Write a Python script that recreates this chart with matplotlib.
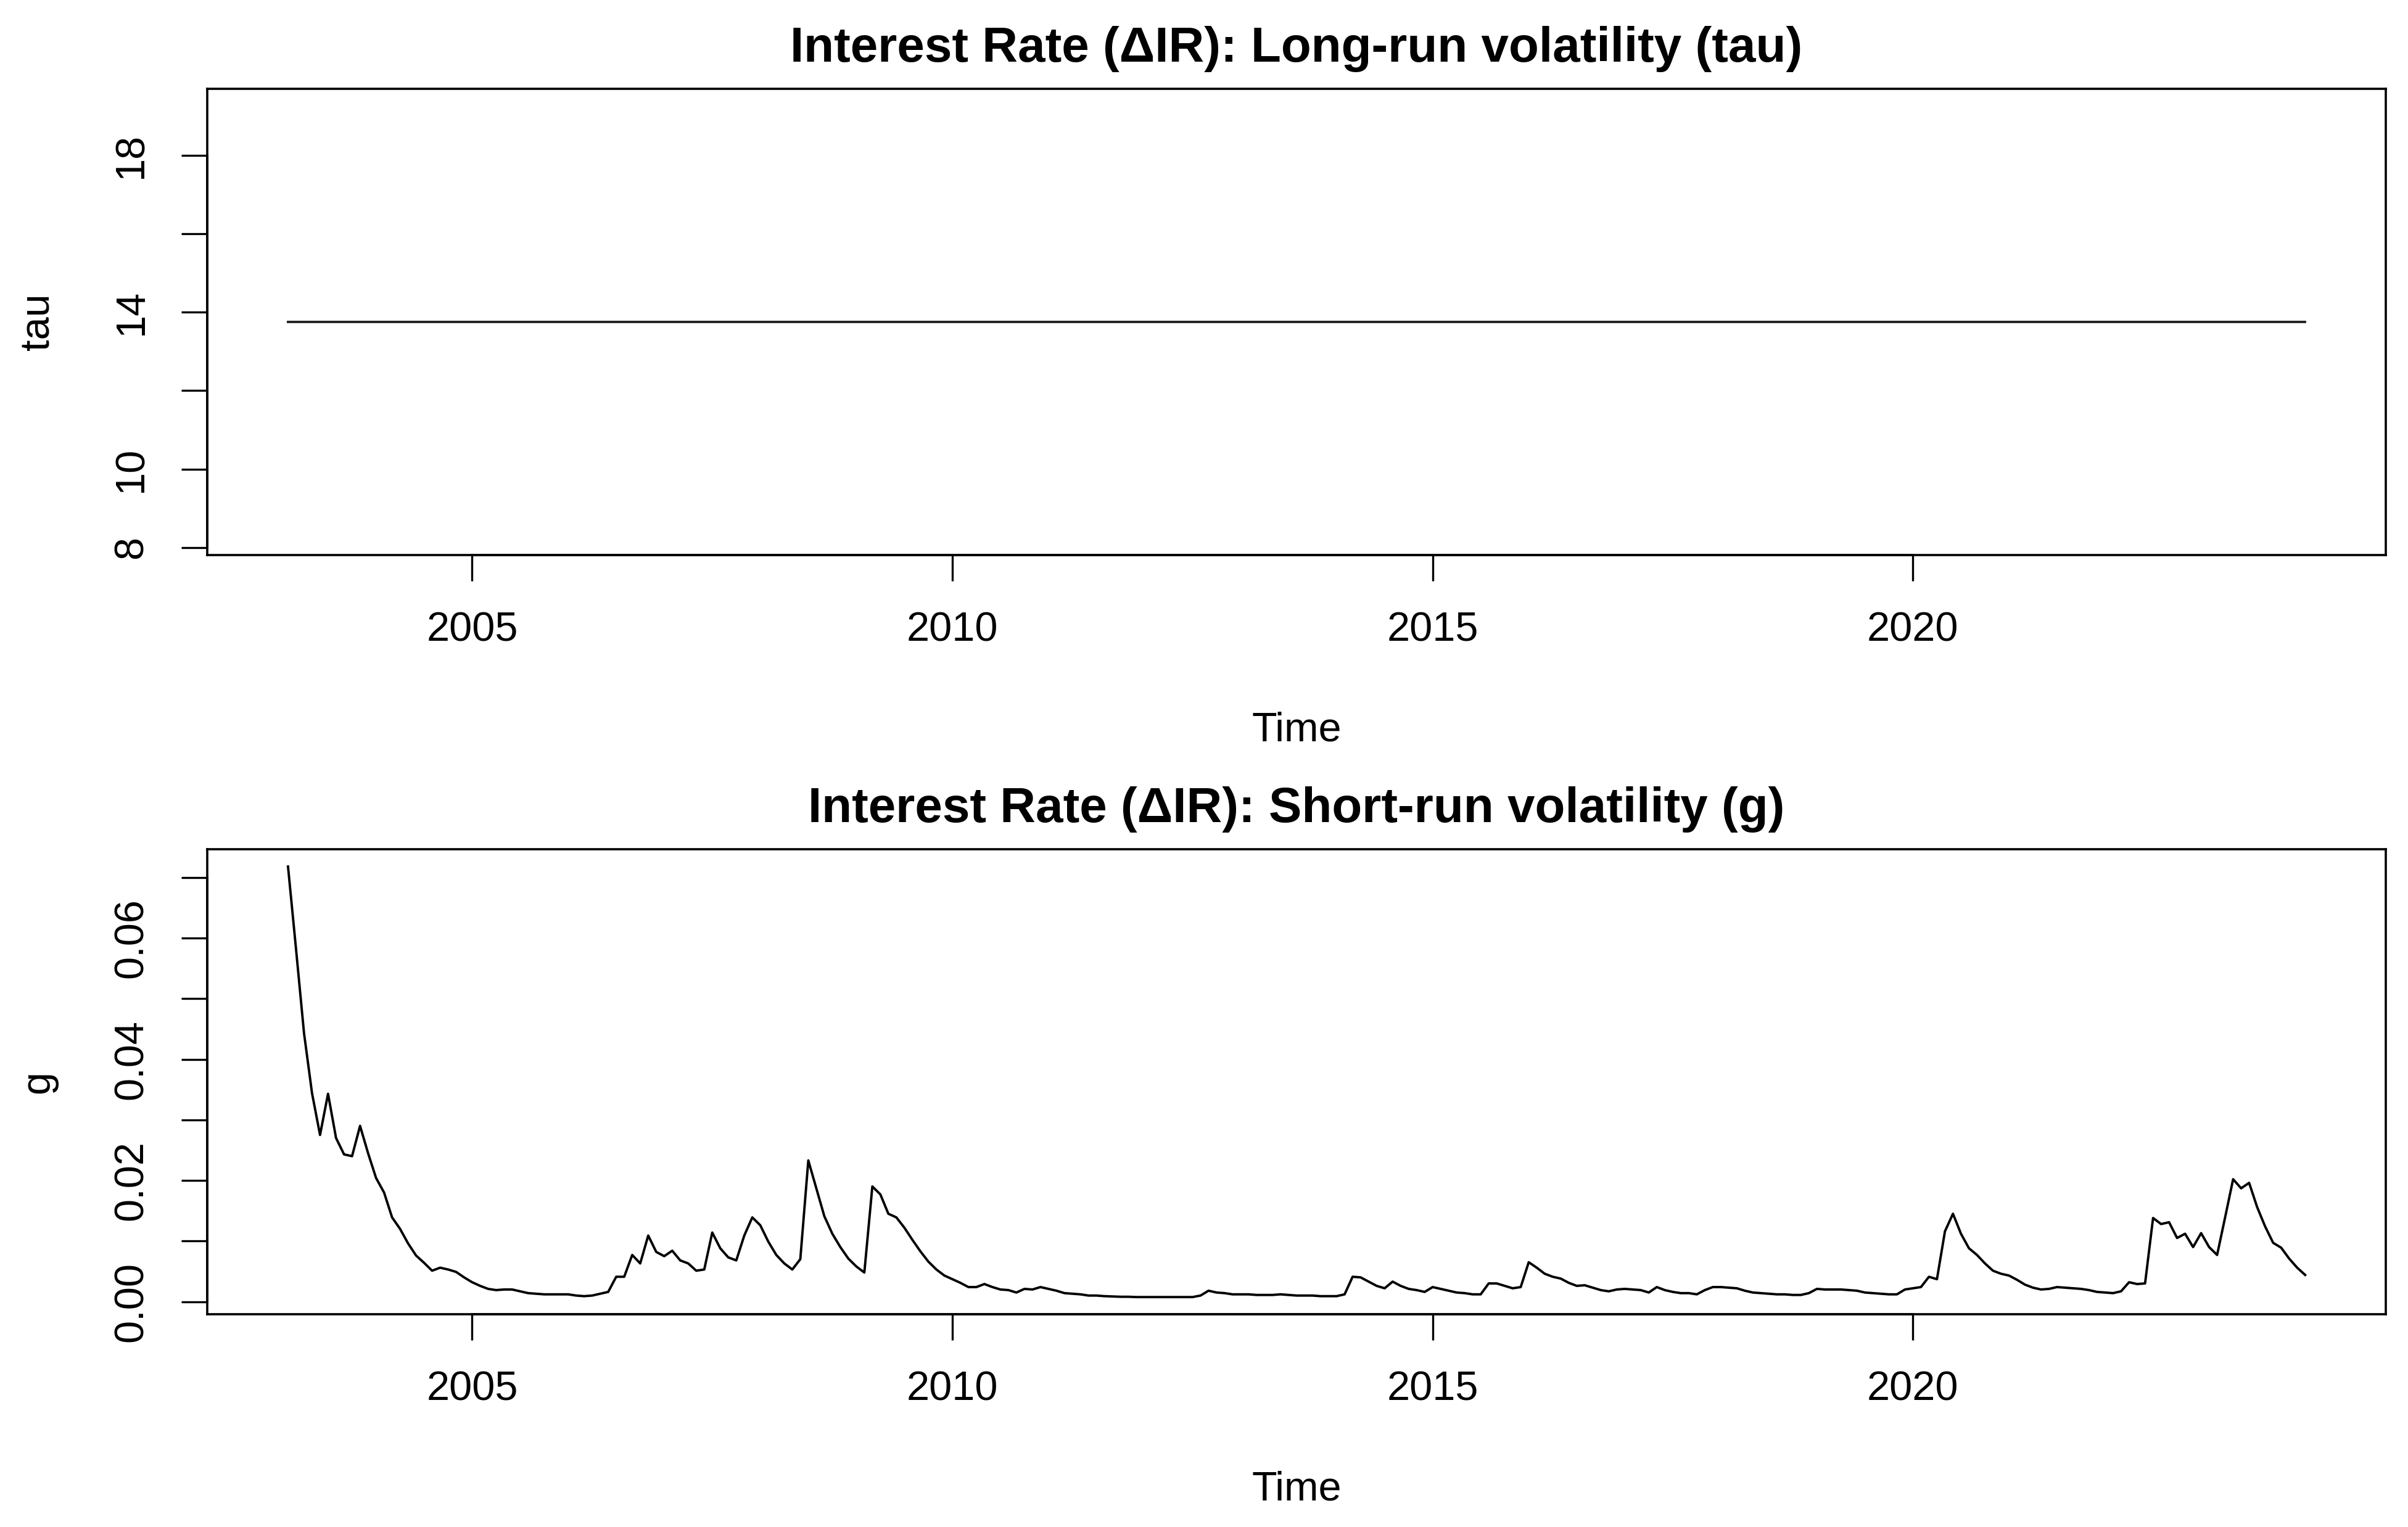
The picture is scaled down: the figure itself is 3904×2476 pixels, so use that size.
import matplotlib.pyplot as plt
import numpy as np

plt.rcParams['font.family'] = ['Liberation Sans', 'DejaVu Sans']

# monthly series, starting Feb 2003
start_year = 2003
start_month = 2

# short-run volatility g
g_values = [
    0.0718, 0.0582, 0.0443, 0.0344, 0.0275, 0.0343, 0.0270, 0.0243, 0.0240, 0.0290,
    0.0245, 0.0204, 0.0180, 0.0139, 0.0120, 0.0096, 0.0076, 0.0064, 0.0051, 0.0056,
    0.0053, 0.0049, 0.0040, 0.0032, 0.0026, 0.0021, 0.0019, 0.0020, 0.0020, 0.0017,
    0.0014, 0.0013, 0.0012, 0.0012, 0.0012, 0.0012, 0.0010, 0.0009, 0.0010, 0.0013,
    0.0016, 0.0041, 0.0041, 0.0077, 0.0063, 0.0109, 0.0082, 0.0075, 0.0084, 0.0068,
    0.0063, 0.0051, 0.0053, 0.0114, 0.0088, 0.0073, 0.0068, 0.0109, 0.0139, 0.0126,
    0.0099, 0.0077, 0.0063, 0.0053, 0.0070, 0.0233, 0.0187, 0.0141, 0.0112, 0.0090,
    0.0071, 0.0058, 0.0048, 0.0190, 0.0177, 0.0145, 0.0139, 0.0122, 0.0102, 0.0083,
    0.0066, 0.0053, 0.0043, 0.0037, 0.0031, 0.0024, 0.0024, 0.0029, 0.0024, 0.0020,
    0.0019, 0.0015, 0.0021, 0.0020, 0.0024, 0.0021, 0.0018, 0.0014, 0.0013, 0.0012,
    0.0010, 0.0010, 0.0009, 0.00085, 0.0008, 0.0008, 0.00075, 0.00075, 0.00075, 0.00075,
    0.00075, 0.00075, 0.00075, 0.00075, 0.0010, 0.0018, 0.0015, 0.0014, 0.0012, 0.0012,
    0.0012, 0.0011, 0.0011, 0.0011, 0.0012, 0.0011, 0.0010, 0.0010, 0.0010, 0.0009,
    0.0009, 0.0009, 0.0012, 0.0041, 0.0040, 0.0033, 0.0026, 0.0022, 0.0033, 0.0026,
    0.0021, 0.0019, 0.0016, 0.0024, 0.0021, 0.0018, 0.0015, 0.0014, 0.0012, 0.0012,
    0.0030, 0.0030, 0.0026, 0.0022, 0.0024, 0.0065, 0.0056, 0.0046, 0.0041, 0.0038,
    0.0031, 0.0026, 0.0027, 0.0023, 0.0019, 0.0017, 0.0020, 0.0021, 0.0020, 0.0019,
    0.0015, 0.0024, 0.0019, 0.0016, 0.0014, 0.0014, 0.0012, 0.0019, 0.0024, 0.0024,
    0.0023, 0.0022, 0.0018, 0.0015, 0.0014, 0.0013, 0.0012, 0.0012, 0.0011, 0.0011,
    0.0014, 0.0021, 0.0020, 0.0020, 0.0020, 0.0019, 0.0018, 0.0015, 0.0014, 0.0013,
    0.0012, 0.0012, 0.0020, 0.0022, 0.0024, 0.0041, 0.0037, 0.0116, 0.0145, 0.0112,
    0.0088, 0.0077, 0.0063, 0.0051, 0.0046, 0.0043, 0.0036, 0.0028, 0.0023, 0.0020,
    0.0021, 0.0024, 0.0023, 0.0022, 0.0021, 0.0019, 0.0016, 0.0015, 0.0014, 0.0017,
    0.0032, 0.0029, 0.0030, 0.0138, 0.0128, 0.0131, 0.0105, 0.0112, 0.0090, 0.0113,
    0.0090, 0.0077, 0.0139, 0.0202, 0.0187, 0.0196, 0.0156, 0.0124, 0.0097, 0.0089,
    0.0071, 0.0056, 0.0044,
]

# long-run volatility tau (constant over the sample)
tau_level = 13.75
tau_values = [tau_level] * len(g_values)

x_ticks = [2005, 2010, 2015, 2020]
tau_ticks = [8, 10, 12, 14, 16, 18]
tau_labels = ['8', '10', '', '14', '', '18']
g_ticks = [0.00, 0.01, 0.02, 0.03, 0.04, 0.05, 0.06, 0.07]
g_labels = ['0.00', '', '0.02', '', '0.04', '', '0.06', '']

time = start_year + (start_month - 1) / 12 + np.arange(len(g_values)) / 12


def r_range(lo, hi):
    # R style 4% padding
    d = (hi - lo) * 0.04
    return lo - d, hi + d


fig = plt.figure(figsize=(19.52, 12.38), dpi=200)
ax1 = fig.add_axes([0.0861, 0.6365, 0.9047, 0.3053])
ax2 = fig.add_axes([0.0861, 0.1393, 0.9047, 0.3045])

lw = 1.4
ax1.plot(time, tau_values, color='#222222', lw=lw)
ax2.plot(time, g_values, color='black', lw=lw)

xlim = r_range(time[0], time[-1])
ax1.set_ylim(*r_range(tau_level * 0.6, tau_level * 1.4))
ax2.set_ylim(*r_range(min(g_values), max(g_values)))

panels = [
    (ax1, 'Interest Rate (ΔIR): Long-run volatility (tau)', 'tau', tau_ticks, tau_labels),
    (ax2, 'Interest Rate (ΔIR): Short-run volatility (g)', 'g', g_ticks, g_labels),
]
for ax, title, ylab, yt, yl in panels:
    ax.set_xlim(*xlim)
    ax.set_xticks(x_ticks)
    ax.set_yticks(yt, yl, rotation=90, va='center')
    ax.tick_params(direction='out', length=15, width=1.2, labelsize=24, pad=18)
    for sp in ax.spines.values():
        sp.set_linewidth(1.3)
    ax.set_title(title, fontsize=28.8, fontweight='bold', pad=16)
    ax.set_xlabel('Time', fontsize=24, labelpad=36)
    ax.set_ylabel(ylab, fontsize=24, labelpad=32)
    # R draws the axis line from first to last tick over the box
    ax.plot([x_ticks[0], x_ticks[-1]], [0, 0], color='black', lw=1.3,
            transform=ax.get_xaxis_transform(), clip_on=False)
    ax.plot([0, 0], [yt[0], yt[-1]], color='black', lw=1.3,
            transform=ax.get_yaxis_transform(), clip_on=False)

plt.savefig('out.png', dpi=200)
